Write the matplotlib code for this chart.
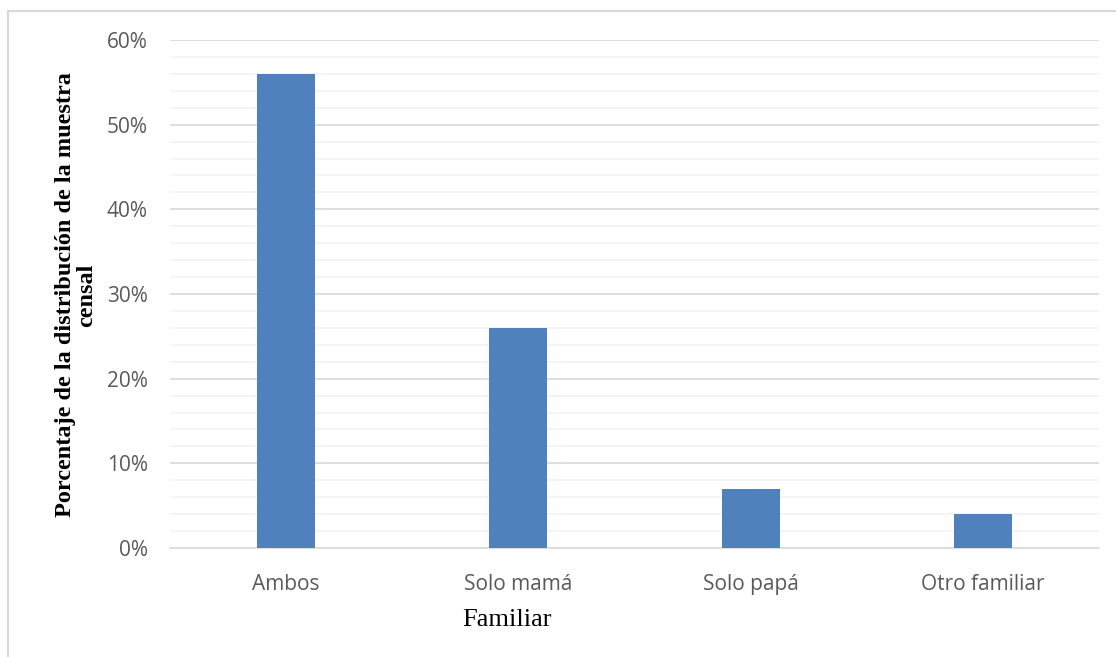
import matplotlib.pyplot as plt
import numpy as np
from matplotlib.patches import Rectangle
from matplotlib.ticker import MultipleLocator, PercentFormatter

categories = ["Ambos", "Solo mamá", "Solo papá", "Otro familiar"]
shares = [0.56, 0.26, 0.07, 0.04]
y_ticks = [0.0, 0.1, 0.2, 0.3, 0.4, 0.5, 0.6]

BAR_COLOR = "#4F81BD"
TICK_COLOR = "#595959"

fig = plt.figure(figsize=(11.16, 6.57), dpi=100)
ax = fig.add_axes([170 / 1116, 1 - 548 / 657, (1099 - 170) / 1116, (548 - 40) / 657])

# light frame around the chart area
fig.patches.append(Rectangle((8 / 1116, -0.1), 1.2, 1 - 11 / 657 + 0.1,
                             transform=fig.transFigure, fill=False,
                             edgecolor="#D9D9D9", linewidth=1.5))

x = np.arange(len(categories))
ax.bar(x, shares, width=0.25, color=BAR_COLOR, zorder=3)

ax.set_xlim(-0.5, len(categories) - 0.5)
ax.set_ylim(0, 0.6)
ax.set_yticks(y_ticks)
ax.yaxis.set_minor_locator(MultipleLocator(0.02))
ax.yaxis.set_major_formatter(PercentFormatter(1.0, decimals=0))
ax.grid(True, axis="y", which="major", color="#D9D9D9", linewidth=1.2, zorder=0)
ax.grid(True, axis="y", which="minor", color="#F2F2F2", linewidth=1.2, zorder=0)
ax.set_axisbelow(True)

for side in ["top", "right", "left"]:
    ax.spines[side].set_visible(False)
ax.spines["bottom"].set_color("#D9D9D9")
ax.spines["bottom"].set_linewidth(1.2)

ax.tick_params(axis="both", which="both", length=0, colors=TICK_COLOR, labelsize=15)
ax.tick_params(axis="y", pad=16)
ax.tick_params(axis="x", pad=19)
ax.set_xticks(x)
ax.set_xticklabels(categories)
for lbl in ax.get_xticklabels() + ax.get_yticklabels():
    lbl.set_family("Open Sans")

fig.text(507 / 1116, 1 - 620 / 657, "Familiar", family="Liberation Serif", fontsize=19,
         color="black", ha="center", va="center")
fig.text(76 / 1116, 1 - 295 / 657, "Porcentaje de la distribución de la muestra\ncensal",
         family="Liberation Serif", fontsize=17.5, fontweight="bold", color="black",
         rotation=90, ha="center", va="center", multialignment="center", linespacing=1.05)

fig.savefig("out.png", dpi=100)
